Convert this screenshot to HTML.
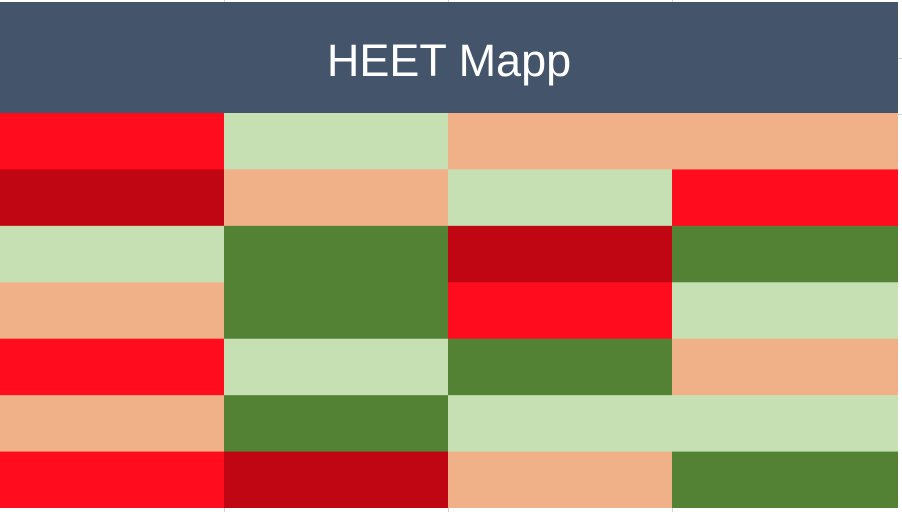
<!DOCTYPE html>
<html><head><meta charset="utf-8"><style>
body{margin:0;width:902px;height:512px;background:#fff;position:relative;overflow:hidden;font-family:"Liberation Sans",sans-serif}
.gl{position:absolute;background:#d4d4d4}
#hdr{position:absolute;left:0;top:2px;width:898px;height:111px;background:#44546a;color:#fff;font-size:45px;display:flex;align-items:center;justify-content:center;font-family:"Liberation Sans",sans-serif}
#hdr span{position:relative;top:3px}
#grid{position:absolute;left:0;top:113px}
</style></head><body>
<div class="gl" style="left:224px;top:0;width:1px;height:512px"></div>
<div class="gl" style="left:448px;top:0;width:1px;height:512px"></div>
<div class="gl" style="left:672px;top:0;width:1px;height:512px"></div>
<div class="gl" style="left:898px;top:58px;width:4px;height:1px"></div>
<div class="gl" style="left:898px;top:114px;width:4px;height:1px"></div>
<div id="hdr"><span>HEET Mapp</span></div>
<svg id="grid" width="898" height="395"></svg>
<script>
const rows = [0,1,2,3,4,5,6];
const cols = [0,1,2,3];
const values = [
 [2,4,3,3],
 [1,3,4,2],
 [4,5,1,5],
 [3,5,2,4],
 [2,4,5,3],
 [3,5,4,4],
 [2,1,3,5]
];
const palette = {1:'#c00612',2:'#ff0d1f',3:'#f0b088',4:'#c6e0b4',5:'#548235'};
const W=898,H=395;
const rh=H/rows.length;
const svg=document.getElementById('grid');
rows.forEach(r=>cols.forEach(c=>{
  const rect=document.createElementNS('http://www.w3.org/2000/svg','rect');
  const x0=c*224, x1=c===cols.length-1?W:(c+1)*224;
  rect.setAttribute('x',x0);
  rect.setAttribute('y',r*rh);
  rect.setAttribute('width',x1-x0);
  rect.setAttribute('height',rh+0.5);
  rect.setAttribute('fill',palette[values[r][c]]);
  
  
  svg.appendChild(rect);
}));
</script>
</body></html>
